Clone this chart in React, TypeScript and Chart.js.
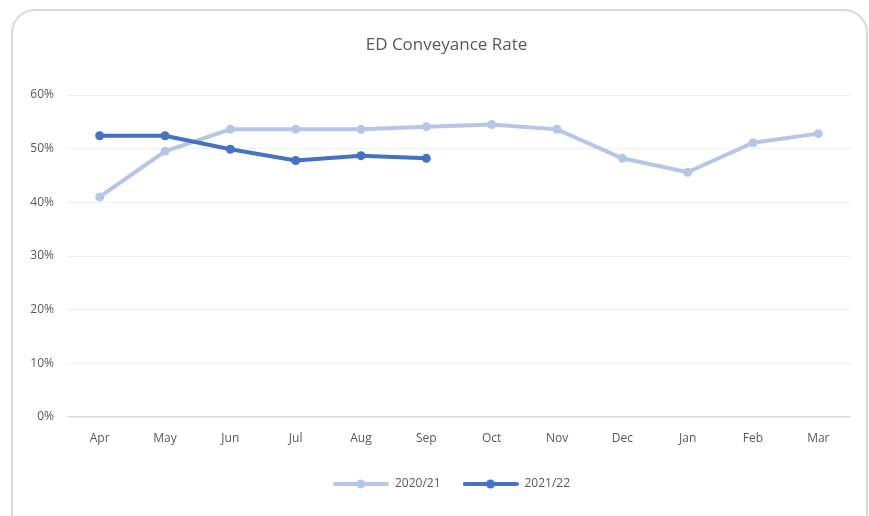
import React, { useEffect, useRef } from "react";
import { Chart, registerables } from "chart.js";

Chart.register(...registerables);

const categories = ["Apr", "May", "Jun", "Jul", "Aug", "Sep", "Oct", "Nov", "Dec", "Jan", "Feb", "Mar"];
const series2020 = [41.0, 49.5, 53.6, 53.6, 53.6, 54.1, 54.5, 53.6, 48.2, 45.6, 51.1, 52.8];
const series2021 = [52.4, 52.4, 49.9, 47.8, 48.7, 48.2, null, null, null, null, null, null];
const seriesLabels = ["2020/21", "2021/22"];
const seriesColors = ["#b4c7e7", "#4472c4"];
const yTicks = [0, 10, 20, 30, 40, 50, 60];

const FONT = "'Open Sans', 'DejaVu Sans', sans-serif";
const TEXT = "#595959";

function legendIcon(color: string): HTMLCanvasElement {
  const c = document.createElement("canvas");
  c.width = 56;
  c.height = 10;
  const g = c.getContext("2d")!;
  g.strokeStyle = color;
  g.lineWidth = 4;
  g.lineCap = "round";
  g.beginPath();
  g.moveTo(2, 5);
  g.lineTo(54, 5);
  g.stroke();
  g.fillStyle = color;
  g.beginPath();
  g.arc(28, 5, 4.5, 0, Math.PI * 2);
  g.fill();
  return c;
}

const shiftBoxes = {
  id: "shiftBoxes",
  afterLayout(chart: any) {
    if (chart.legend) {
      chart.legend.left += 26;
      chart.legend.right += 26;
    }
    if (chart.titleBlock) {
      chart.titleBlock.left += 21;
      chart.titleBlock.right += 21;
    }
  },
};

export default function App() {
  const ref = useRef<HTMLCanvasElement | null>(null);

  useEffect(() => {
    if (!ref.current) return;
    const icons = seriesColors.map(legendIcon);
    const chart = new Chart(ref.current, {
      type: "line",
      data: {
        labels: categories,
        datasets: [series2020, series2021].map((d, i) => ({
          label: seriesLabels[i],
          data: d,
          borderColor: seriesColors[i],
          backgroundColor: seriesColors[i],
          pointBackgroundColor: seriesColors[i],
          pointBorderWidth: 0,
          pointRadius: 4.5,
          borderWidth: 4,
          tension: 0,
          spanGaps: false,
          order: i === 0 ? 1 : 0,
        })),
      },
      options: {
        responsive: false,
        animation: false,
        layout: { padding: { left: 0, right: 18, top: 0, bottom: 16 } },
        scales: {
          x: {
            offset: true,
            grid: { display: false, drawTicks: false },
            border: { display: false },
            ticks: { color: TEXT, font: { family: FONT, size: 12 }, padding: 14, maxRotation: 0 },
            afterFit: (s: any) => {
              s.height = 39;
            },
          },
          y: {
            min: 0,
            max: 60,
            afterBuildTicks: (s: any) => {
              s.ticks = yTicks.map((v) => ({ value: v }));
            },
            grid: {
              drawTicks: false,
              color: (c: any) => (c.tick && c.tick.value === 0 ? "#d9d9d9" : "#efefef"),
              lineWidth: (c: any) => (c.tick && c.tick.value === 0 ? 1.5 : 1),
            },
            border: { display: false },
            ticks: {
              color: TEXT,
              font: { family: FONT, size: 12 },
              padding: 13,
              callback: (v: any) => `${v}%`,
            },
            afterFit: (s: any) => {
              s.width = 67;
            },
          },
        },
        plugins: {
          title: {
            display: true,
            text: "ED Conveyance Rate",
            color: TEXT,
            font: { family: FONT, size: 17, weight: "normal" },
            padding: { top: 34.8, bottom: 39.8 },
          },
          legend: {
            position: "bottom",
            labels: {
              color: TEXT,
              font: { family: FONT, size: 12 },
              usePointStyle: true,
              pointStyleWidth: 56,
              padding: 22,
              sort: (a: any, b: any) => a.datasetIndex - b.datasetIndex,
              generateLabels: (ch: any) => {
                const base = Chart.defaults.plugins.legend.labels.generateLabels(ch);
                return base.map((it: any) => ({ ...it, pointStyle: icons[it.datasetIndex] }));
              },
            },
          },
          tooltip: { enabled: false },
        },
      } as any,
      plugins: [shiftBoxes],
    });
    return () => chart.destroy();
  }, []);

  return (
    <div style={{ position: "fixed", left: 0, top: 0, width: 869, height: 516, background: "#fff", overflow: "hidden" }}>
      <div
        style={{
          position: "absolute",
          left: 11,
          top: 9,
          width: 857,
          height: 530,
          border: "2px solid #d9d9d9",
          borderRadius: 24,
          boxSizing: "border-box",
        }}
      />
      <canvas ref={ref} width={869} height={516} style={{ position: "absolute", left: 0, top: 0, width: 869, height: 516 }} />
    </div>
  );
}
